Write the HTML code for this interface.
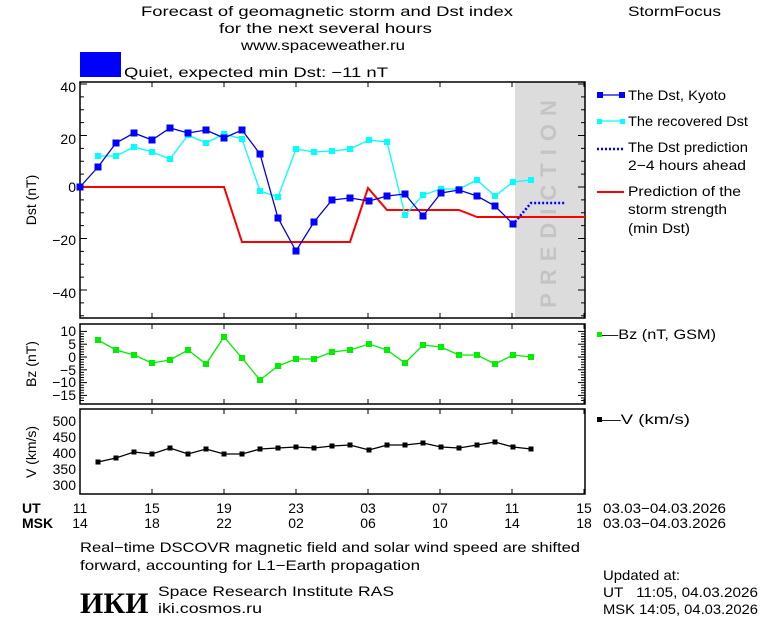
<!DOCTYPE html>
<html><head><meta charset="utf-8"><style>
html,body{margin:0;padding:0;background:#fff;}
svg{display:block;font-family:"Liberation Sans",sans-serif;}
text{font-size:14px;fill:#000;}
</style></head><body>
<svg id="s" width="760" height="620" xmlns="http://www.w3.org/2000/svg">
<rect width="760" height="620" fill="#fff"/>
<text x="141" y="16" textLength="372" lengthAdjust="spacingAndGlyphs">Forecast of geomagnetic storm and Dst index</text>
<text x="219" y="33" textLength="213" lengthAdjust="spacingAndGlyphs">for the next several hours</text>
<text x="241" y="50" textLength="164" lengthAdjust="spacingAndGlyphs">www.spaceweather.ru</text>
<text x="628" y="16" textLength="93" lengthAdjust="spacingAndGlyphs">StormFocus</text>
<rect x="80" y="52" width="41" height="25" fill="#0000ff"/>
<text x="124" y="77" textLength="264" lengthAdjust="spacingAndGlyphs">Quiet, expected min Dst: −11 nT</text>

<rect x="515" y="82" width="70" height="236" fill="#dcdcdc"/>
<text transform="translate(556,200) rotate(-90)" text-anchor="middle" style="font-size:22px;fill:#c4c4c4;font-weight:bold;letter-spacing:8px">PREDICTION</text>

<g id="frames" fill="none" stroke="#000" stroke-width="1.5">
<rect x="80" y="82" width="505" height="236"/>
<rect x="80" y="324" width="505" height="80"/>
<rect x="80" y="409" width="505" height="85"/>
</g>
<g id="ticks" stroke="#000" stroke-width="1"></g>

<g text-anchor="end">
<text x="76" y="92">40</text><text x="76" y="144">20</text><text x="76" y="192">0</text>
<text x="76" y="245">−20</text><text x="76" y="298">−40</text>
<text x="76" y="336">10</text><text x="76" y="349">5</text><text x="76" y="362">0</text>
<text x="76" y="375">−5</text><text x="76" y="387">−10</text><text x="76" y="400">−15</text>
<text x="76" y="426">500</text><text x="76" y="442">450</text><text x="76" y="458">400</text>
<text x="76" y="474">350</text><text x="76" y="490">300</text>
</g>
<text transform="translate(36,200) rotate(-90)" text-anchor="middle">Dst (nT)</text>
<text transform="translate(36,364) rotate(-90)" text-anchor="middle">Bz (nT)</text>
<text transform="translate(36,452) rotate(-90)" text-anchor="middle">V (km/s)</text>

<polyline fill="none" stroke="#ff0000" stroke-width="2" points="80,187 224,187 242,242 350,242 368,188 387,210 459,210 477,217 585,217"/>
<polyline id="cy" fill="none" stroke="#00ffff" stroke-width="1.3" points="98,156 116,156 134,147 152,152 170,159 188,135 206,143 224,134 242,139 260,191 278,197 296,149 314,152 332,151 350,149 369,140 387,142 405,215 423,195 441,189 459,189 477,180 495,196 513,182 531,180"/>
<polyline id="bl" fill="none" stroke="#0000dd" stroke-width="1.3" points="80,187 98,167 116,143 134,133 152,140 170,128 188,133 206,130 224,138 242,130 260,154 278,218 296,251 314,222 332,200 350,198 369,201 387,196 405,194 423,216 441,193 459,190 477,196 495,206 513,224"/>
<polyline fill="none" stroke="#0000ff" stroke-width="2.5" stroke-dasharray="2,2" points="515,222 531,203 565,203"/>
<polyline id="bz" fill="none" stroke="#00ee00" stroke-width="1.3" points="98,340 116,350 134,355 152,363 170,360 188,350 206,364 224,337 242,358 260,380 278,366 296,359 314,359 332,352 350,350 369,344 387,350 405,363 423,345 441,347 459,355 477,355 495,364 513,355 531,357"/>
<polyline id="vv" fill="none" stroke="#000" stroke-width="1.3" points="98,462 116,458 134,452 152,454 170,448 188,454 206,449 224,454 242,454 260,449 278,448 296,447 314,448 332,446 350,445 369,450 387,445 405,445 423,443 441,447 459,448 477,445 495,442 513,447 531,449"/>
<g id="marks"></g>

<line x1="597" y1="95" x2="624" y2="95" stroke="#0000dd" stroke-width="1.3"/>
<rect x="597" y="92" width="6" height="6" fill="#0000ff"/><rect x="619" y="92" width="6" height="6" fill="#0000ff"/>
<text x="628" y="100" textLength="98" lengthAdjust="spacingAndGlyphs">The Dst, Kyoto</text>
<line x1="597" y1="121" x2="624" y2="121" stroke="#00ffff" stroke-width="1.3"/>
<rect x="597" y="119" width="5" height="5" fill="#00ffff"/><rect x="620" y="119" width="5" height="5" fill="#00ffff"/>
<text x="628" y="126" textLength="120" lengthAdjust="spacingAndGlyphs">The recovered Dst</text>
<line x1="597" y1="149" x2="623" y2="149" stroke="#0000ff" stroke-width="2.5" stroke-dasharray="2,2"/>
<text x="628" y="152" textLength="120" lengthAdjust="spacingAndGlyphs">The Dst prediction</text>
<text x="628" y="170" textLength="118" lengthAdjust="spacingAndGlyphs">2−4 hours ahead</text>
<line x1="597" y1="192" x2="624" y2="192" stroke="#ff0000" stroke-width="2"/>
<text x="628" y="196" textLength="113" lengthAdjust="spacingAndGlyphs">Prediction of the</text>
<text x="628" y="214" textLength="99" lengthAdjust="spacingAndGlyphs">storm strength</text>
<text x="628" y="233" textLength="62" lengthAdjust="spacingAndGlyphs">(min Dst)</text>
<rect x="597" y="332" width="5" height="5" fill="#00ee00"/>
<text x="602" y="339" textLength="114" lengthAdjust="spacingAndGlyphs">—Bz (nT, GSM)</text>
<rect x="597" y="417" width="5" height="5" fill="#000"/>
<text x="602" y="424" textLength="88" lengthAdjust="spacingAndGlyphs">—V (km/s)</text>

<text x="22" y="513" style="font-weight:bold">UT</text>
<text x="22" y="528" style="font-weight:bold">MSK</text>
<g text-anchor="middle">
<text x="80" y="513">11</text><text x="152" y="513">15</text><text x="224" y="513">19</text><text x="296" y="513">23</text>
<text x="368" y="513">03</text><text x="440" y="513">07</text><text x="512" y="513">11</text><text x="584" y="513">15</text>
<text x="80" y="528">14</text><text x="152" y="528">18</text><text x="224" y="528">22</text><text x="296" y="528">02</text>
<text x="368" y="528">06</text><text x="440" y="528">10</text><text x="512" y="528">14</text><text x="584" y="528">18</text>
</g>
<text x="603" y="513" textLength="123" lengthAdjust="spacingAndGlyphs">03.03−04.03.2026</text>
<text x="603" y="528" textLength="123" lengthAdjust="spacingAndGlyphs">03.03−04.03.2026</text>

<text x="80" y="552" textLength="500" lengthAdjust="spacingAndGlyphs">Real−time DSCOVR magnetic field and solar wind speed are shifted</text>
<text x="80" y="570" textLength="340" lengthAdjust="spacingAndGlyphs">forward, accounting for L1−Earth propagation</text>
<text x="80" y="613" style="font-family:'Liberation Serif',serif;font-size:30px;font-weight:bold;">ИКИ</text>
<text x="158" y="596" textLength="236" lengthAdjust="spacingAndGlyphs">Space Research Institute RAS</text>
<text x="158" y="613" textLength="104" lengthAdjust="spacingAndGlyphs">iki.cosmos.ru</text>
<text x="603" y="580" textLength="77" lengthAdjust="spacingAndGlyphs">Updated at:</text>
<text x="603" y="597" textLength="155" lengthAdjust="spacingAndGlyphs">UT&#160;&#160;&#160;11:05, 04.03.2026</text>
<text x="603" y="614" textLength="155" lengthAdjust="spacingAndGlyphs">MSK 14:05, 04.03.2026</text>
</svg>
<script>
var NS="http://www.w3.org/2000/svg",t=document.getElementById("ticks"),m=document.getElementById("marks");
function L(a,b,c,d){var l=document.createElementNS(NS,"line");l.setAttribute("x1",a);l.setAttribute("y1",b);l.setAttribute("x2",c);l.setAttribute("y2",d);t.appendChild(l);}
function R(x,y,s,f){var r=document.createElementNS(NS,"rect");r.setAttribute("x",x-s/2);r.setAttribute("y",y-s/2);r.setAttribute("width",s);r.setAttribute("height",s);r.setAttribute("fill",f);m.appendChild(r);}
var panels=[[82,318],[324,404],[409,494]];
for(var i=0;i<8;i++){var x=80+72*i;panels.forEach(function(p){L(x,p[0],x,p[0]+5);L(x,p[1],x,p[1]-5);});}
for(var v=-50;v<=40;v+=5){var y=187-2.575*v,len=(v%20==0)?7:4;L(80,y,80+len,y);L(585,y,585-len,y);}
for(var v=-17;v<=10;v++){var y=357-2.56*v;if(y<325||y>403)continue;var len=(v%5==0)?7:4;L(80,y,80+len,y);L(585,y,585-len,y);}
for(var v=260;v<=540;v+=12.5){var y=453-0.32*v;if(y<410||y>493)continue;var len=(v%50==0)?7:4;L(80,y,80+len,y);L(585,y,585-len,y);}
function pts(id){return document.getElementById(id).getAttribute("points").trim().split(/\s+/).map(function(s){return s.split(",").map(Number);});}
pts("cy").forEach(function(p){R(p[0],p[1],6,"#00ffff");});
pts("bl").forEach(function(p){R(p[0],p[1],7,"#0000ff");});
pts("bz").forEach(function(p){R(p[0],p[1],6,"#00ee00");});
pts("vv").forEach(function(p){R(p[0],p[1],5,"#000");});
</script>
</body></html>
